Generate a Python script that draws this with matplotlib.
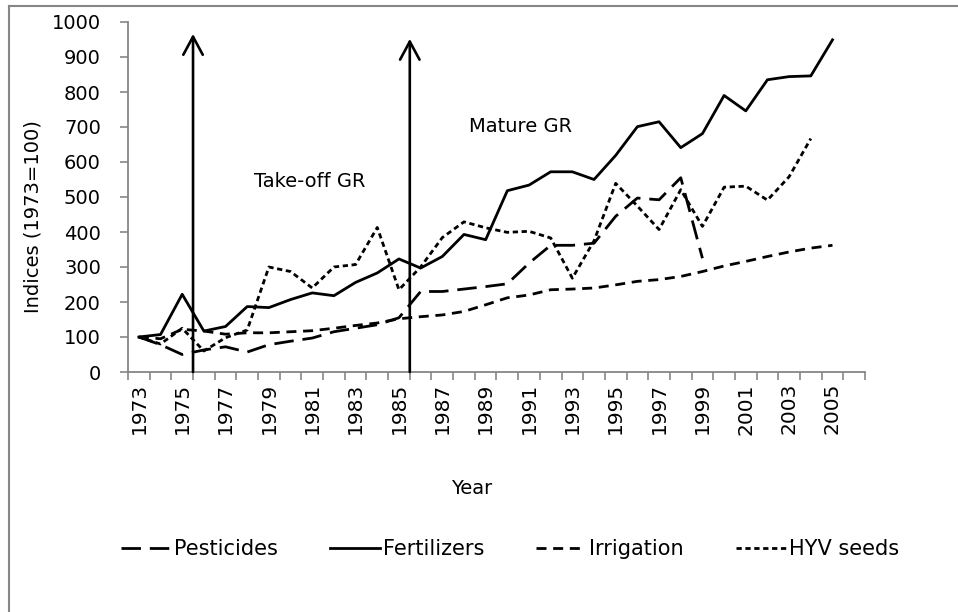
import numpy as np
import matplotlib
matplotlib.use("Agg")
import matplotlib.pyplot as plt
from matplotlib.lines import Line2D

years = list(range(1973, 2007))
tick_labels = [str(y) for y in range(1973, 2006, 2)]

pesticides = [100, 78, 50, 63, 72, 57, 78, 88, 97, 115, 125, 135, 155, 230, 230, 237,
              244, 252, 311, 362, 362, 368, 445, 497, 492, 555, 325]
fertilizers = [100, 107, 222, 117, 130, 187, 184, 207, 226, 218, 256, 283, 323, 297, 330,
               393, 378, 518, 534, 572, 572, 550, 619, 701, 715, 641, 681, 790, 746, 835,
               844, 846, 949]
irrigation = [100, 95, 122, 117, 108, 112, 112, 115, 118, 125, 133, 140, 152, 158, 163, 173,
              192, 212, 220, 235, 237, 240, 249, 259, 264, 273, 287, 303, 316, 330, 343,
              354, 362]
hyv_seeds = [100, 80, 125, 60, 98, 120, 300, 287, 240, 300, 307, 413, 235, 300, 384, 429,
             412, 399, 402, 383, 268, 375, 539, 474, 407, 521, 416, 528, 531, 491, 558, 667]

arrow_positions = [2.5, 12.5]
arrow_tops = [966, 952]
labels_text = ["Take-off GR", "Mature GR"]

W, H = 958, 612
fig = plt.figure(figsize=(W / 100, H / 100), dpi=100)
ax = fig.add_axes([128 / W, 1 - 372 / H, (865 - 128) / W, (372 - 22) / H])

lw = 2.0
def x_of(series):
    return np.arange(len(series))

ax.plot(x_of(pesticides), pesticides, color="black", lw=lw, linestyle=(0, (7, 3.2)),
        label="Pesticides", dash_capstyle="butt")
ax.plot(x_of(fertilizers), fertilizers, color="black", lw=lw, linestyle="-",
        label="Fertilizers")
ax.plot(x_of(irrigation), irrigation, color="black", lw=lw, linestyle=(0, (3.6, 2.4)),
        label="Irrigation", dash_capstyle="butt")
ax.plot(x_of(hyv_seeds), hyv_seeds, color="black", lw=lw, linestyle=(0, (1.9, 1.3)),
        label="HYV seeds", dash_capstyle="butt")

for xp, top in zip(arrow_positions, arrow_tops):
    ax.annotate("", xy=(xp, top), xytext=(xp, 0),
                arrowprops=dict(arrowstyle="->,head_length=1.3,head_width=0.7",
                                color="black", lw=1.9, shrinkA=0, shrinkB=0),
                annotation_clip=False)

ax.text(7.9, 543, labels_text[0], fontsize=14, ha="center", va="center")
ax.text(17.6, 700, labels_text[1], fontsize=14, ha="center", va="center")

ax.set_xlim(-0.5, len(years) - 0.5)
ax.set_ylim(0, 1000)
ax.set_yticks(np.arange(0, 1001, 100))
ax.set_xticks(np.arange(0, len(years), 2)[:len(tick_labels)])
ax.set_xticklabels(tick_labels, rotation=90)
ax.set_xticks(np.arange(-0.5, len(years) + 0.5, 1), minor=True)

gray = "#868686"
for s in ["top", "right"]:
    ax.spines[s].set_visible(False)
for s in ["left", "bottom"]:
    ax.spines[s].set_color(gray)
    ax.spines[s].set_linewidth(1.3)

ax.tick_params(axis="y", direction="out", length=5.5, width=1.2, color=gray,
               labelsize=14, pad=14)
ax.tick_params(axis="x", which="major", length=0, labelsize=14.5, pad=8)
ax.tick_params(axis="x", which="minor", direction="out", length=5.5, width=1.2, color=gray)

fig.text(472 / W, 1 - 488 / H, "Year", fontsize=14, ha="center", va="center")
fig.text(33 / W, 1 - 217 / H, "Indices (1973=100)", fontsize=14, ha="center",
         va="center", rotation=90)

leg = fig.legend(loc="center", bbox_to_anchor=(510 / W, 1 - 549 / H), ncol=4,
                 frameon=False, fontsize=15, handlelength=2.4, handletextpad=0.15,
                 columnspacing=2.5)

# outer frame (left and top edges visible)
fig.add_artist(Line2D([9 / W, 9 / W], [0, 1 - 6 / H], transform=fig.transFigure,
                      color=gray, lw=1.5))
fig.add_artist(Line2D([9 / W, 1], [1 - 6 / H, 1 - 6 / H], transform=fig.transFigure,
                      color=gray, lw=1.5))

fig.savefig("out.png", dpi=100)
